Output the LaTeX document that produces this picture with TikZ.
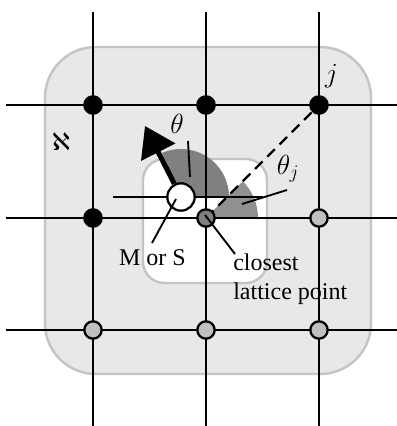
\documentclass[tikz,border=0pt]{standalone}
\usepackage{fontspec}
\setmainfont{Liberation Serif}
\newfontfamily\alephfont{DejaVu Sans}
\usetikzlibrary{arrows.meta}
\definecolor{zonefill}{HTML}{E8E8E8}
\definecolor{zoneedge}{HTML}{C4C4C4}
\definecolor{darksector}{HTML}{808080}
\definecolor{lightsector}{HTML}{909090}
\definecolor{farpoint}{HTML}{C0C0C0}
\tikzset{
    gridline/.style={line width=1.7pt},
    tickline/.style={line width=1.4pt},
    zone/.style={line width=1.8pt,draw=zoneedge},
    lattice/.style={circle,draw,line width=1.7pt,inner sep=0pt,minimum size=13pt},
    label text/.style={font=\fontsize{18}{21.75}\selectfont,inner sep=0pt},
    math text/.style={font=\fontsize{20.74}{24}\selectfont,inner sep=0pt},
}
\begin{document}
\begin{tikzpicture}[x=0.75pt,y=0.75pt]
    \useasboundingbox (0,0) rectangle (397,426);
    % 領域
    \draw[zone,fill=zonefill,rounded corners=38pt] (45,52) rectangle (371,379);
    \draw[zone,fill=white,rounded corners=16pt] (143,143) rectangle (267,267);
    % 基準点
    \coordinate (MS) at (181,229);
    \coordinate (L) at (206,208);
    \coordinate (J) at (319,321);
    % 扇形
    \fill[darksector] (MS) -- ++(0:36pt) arc (0:113:36pt) -- cycle;
    \fill[lightsector] (L) -- ++(0:39pt) arc (0:45:39pt) -- cycle;
    % 格子
    \draw[gridline] (93,414) --(93,0);
    \draw[gridline] (206,414) --(206,0);
    \draw[gridline] (319,414) --(319,0);
    \draw[gridline] (6,321) --(397,321);
    \draw[gridline] (6,208) --(397,208);
    \draw[gridline] (6,96) --(397,96);
    \draw[gridline] (113,229) --(263,229);
    \draw[gridline,dashed,dash pattern=on 8pt off 5pt] (L) --(J);
    % 格子点
    \node[lattice,fill=black] (a1) at (93,321) {};
    \node[lattice,fill=black] (a2) at (206,321) {};
    \node[lattice,fill=black] (a3) at (319,321) {};
    \node[lattice,fill=black] (b1) at (93,208) {};
    \node[lattice,fill=darksector] (b2) at (L) {};
    \node[lattice,fill=farpoint] (b3) at (319,208) {};
    \node[lattice,fill=farpoint] (c1) at (93,96) {};
    \node[lattice,fill=farpoint] (c2) at (206,96) {};
    \node[lattice,fill=farpoint] (c3) at (319,96) {};
    % 矢印
    \node[circle,draw,fill=white,line width=1.7pt,inner sep=0pt,minimum size=20.5pt] (M) at (MS) {};
    \coordinate (tip) at (145,300);
    \draw[-{Triangle[length=22pt,width=28pt]},line width=3.8pt] (M) --(tip);
    % 引出線
    \coordinate (t1) at (188,285);
    \coordinate (t2) at (190,249);
    \coordinate (u1) at (287,236);
    \coordinate (u2) at (242,222);
    \coordinate (v1) at (176,227);
    \coordinate (v2) at (152,183);
    \coordinate (w1) at (205,211);
    \coordinate (w2) at (235,172);
    \draw[tickline] (t1) --(t2);
    \draw[tickline] (u1) --(u2);
    \draw[tickline] (v1) --(v2);
    \draw[tickline] (w1) --(w2);
    % ラベル
    \node[math text] (theta) at (177,302) {$\theta$};
    \node[math text] (thetaj) at (288,257) {$\theta_j$};
    \node[math text] (j) at (331.5,349.5) {$j$};
    \node[label text] (aleph) at (61,284.5) {\alephfont ℵ};
    \node[label text] (ms label) at (152.5,168) {M or S};
    \node[label text,align=left,anchor=north west] (closest) at (233,172) {closest\\lattice point};
\end{tikzpicture}
\end{document}
